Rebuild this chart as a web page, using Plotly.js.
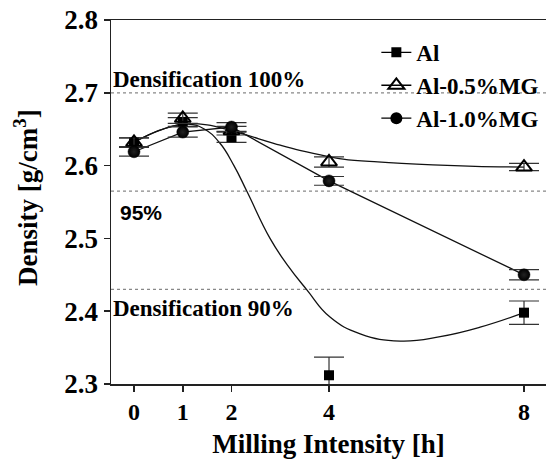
<!DOCTYPE html>
<html>
<head>
<meta charset="utf-8">
<script src="https://cdn.plot.ly/plotly-3.0.1.min.js"></script>
<style>html,body{margin:0;padding:0;background:#fff;}#chart{width:546px;height:466px;}</style>
</head>
<body>
<div id="chart"></div>
<script>
// Measured data
var hours = [0, 1, 2, 4, 8];
var densAl = [2.632, 2.660, 2.639, 2.312, 2.398];
var errAl = [0.006, 0.006, 0.007, 0.025, 0.016];
var densMG05 = [2.632, 2.665, 2.648, 2.605, 2.598];
var errMG05 = [0.006, 0.007, 0.006, 0.007, 0.005];
var densMG10 = [2.619, 2.646, 2.653, 2.579, 2.450];
var errMG10 = [0.006, 0.007, 0.006, 0.006, 0.007];

// Fitted trend curves
var fitAlX = [0, 0.6, 1.1, 1.45, 1.76, 2.05, 2.32, 2.79, 3.14, 3.55, 4.02, 4.64, 5.46, 6.28, 7.1, 8];
var fitAlY = [2.632, 2.650, 2.657, 2.650, 2.631, 2.600, 2.564, 2.500, 2.464, 2.429, 2.392, 2.369, 2.359, 2.365, 2.378, 2.398];
var fitMG05X = [0, 0.5, 1, 1.5, 2, 3, 3.4, 4.29, 5, 6.13, 7, 8];
var fitMG05Y = [2.632, 2.648, 2.657, 2.656, 2.648, 2.628, 2.621, 2.609, 2.605, 2.601, 2.599, 2.598];

// Reference densification levels
var levelY = [2.70, 2.565, 2.43];
var levelText = ['Densification 100%', '95%', 'Densification 90%'];

var serif = 'Liberation Serif, Times New Roman, serif';

function errObj(arr) {
  return {type: 'data', array: arr, visible: true, color: '#333', thickness: 1.2, width: 15};
}

var traces = [
  {x: fitAlX, y: fitAlY, mode: 'lines', line: {shape: 'spline', smoothing: 1.3, color: '#111', width: 1.3}, showlegend: false, hoverinfo: 'skip'},
  {x: fitMG05X, y: fitMG05Y, mode: 'lines', line: {shape: 'spline', smoothing: 1, color: '#111', width: 1.3}, showlegend: false, hoverinfo: 'skip'},
  {x: hours, y: densMG10, mode: 'lines', line: {color: '#111', width: 1.3}, showlegend: false, hoverinfo: 'skip'},
  {x: hours, y: densAl, mode: 'markers', error_y: errObj(errAl), marker: {symbol: 'square', size: 10, color: '#000'}, showlegend: false},
  {x: hours, y: densMG05, mode: 'markers', error_y: errObj(errMG05), marker: {symbol: 'triangle-up-open', size: 14, color: '#000', line: {width: 2, color: '#000'}}, showlegend: false},
  {x: hours, y: densMG10, mode: 'markers', error_y: errObj(errMG10), marker: {symbol: 'circle', size: 12, color: '#000', gradient: {type: 'radial', color: '#222'}, line: {width: 0.5, color: '#000'}}, showlegend: false},
  // legend entries
  {x: [null], y: [null], name: 'Al', mode: 'lines+markers', line: {color: '#000', width: 1.3}, marker: {symbol: 'square', size: 10, color: '#000'}},
  {x: [null], y: [null], name: 'Al-0.5%MG', mode: 'lines+markers', line: {color: '#000', width: 1.3}, marker: {symbol: 'triangle-up-open', size: 14, color: '#000', line: {width: 2, color: '#000'}}},
  {x: [null], y: [null], name: 'Al-1.0%MG', mode: 'lines+markers', line: {color: '#000', width: 1.3}, marker: {symbol: 'circle', size: 12, color: '#000'}}
];

var shapes = levelY.map(function (v) {
  return {type: 'line', xref: 'paper', x0: 0, x1: 1, yref: 'y', y0: v, y1: v, line: {color: '#888', width: 1.2, dash: 'dot'}, layer: 'below'};
});

var annotations = [
  {xref: 'paper', x: 0.0, yref: 'y', y: levelY[0], text: levelText[0], showarrow: false, xanchor: 'left', yanchor: 'bottom', yshift: -1, xshift: 0, font: {family: serif, size: 23, color: '#000', weight: 'bold'}},
  {xref: 'paper', x: 0.016, yref: 'y', y: levelY[1], text: levelText[1], showarrow: false, xanchor: 'left', yanchor: 'top', yshift: -8, font: {family: 'Liberation Sans, Arial, sans-serif', size: 21, color: '#000', weight: 'bold'}},
  {xref: 'paper', x: 0.0, yref: 'y', y: levelY[2], text: levelText[2], showarrow: false, xanchor: 'left', yanchor: 'top', yshift: -5, font: {family: serif, size: 23, color: '#000', weight: 'bold'}},
  // y-axis title drawn as a rotated annotation to match its vertical placement
  {xref: 'paper', x: 0, xanchor: 'center', xshift: -85, yref: 'paper', y: 0.511, yanchor: 'middle', textangle: -90, showarrow: false,
   text: 'Density [g/cm<sup>3</sup>]', font: {family: serif, size: 27, color: '#000', weight: 'bold'}}
];

var layout = {
  width: 546, height: 466,
  margin: {l: 111, r: 0, t: 20, b: 82},
  paper_bgcolor: '#fff', plot_bgcolor: '#fff',
  font: {family: serif, color: '#000'},
  xaxis: {
    range: [-0.472, 8.451], showgrid: false, zeroline: false,
    showline: true, linecolor: '#222', linewidth: 1.5, mirror: true,
    ticks: 'outside', ticklen: 6, tickwidth: 1.5, tickcolor: '#222',
    tickmode: 'array', tickvals: hours, ticktext: hours.map(String),
    tickfont: {family: serif, size: 24, color: '#000', weight: 'bold'},
    title: {text: 'Milling Intensity [h]', font: {family: serif, size: 27, color: '#000', weight: 'bold'}, standoff: 10}
  },
  yaxis: {
    range: [2.3, 2.8], showgrid: false, zeroline: false,
    showline: true, linecolor: '#222', linewidth: 1.5,
    ticks: 'outside', ticklen: 6, tickwidth: 1.5, tickcolor: '#222',
    tickmode: 'array', tickvals: [2.3, 2.4, 2.5, 2.6, 2.7, 2.8], ticktext: ['2.3', '2.4', '2.5', '2.6', '2.7', '2.8'],
    tickfont: {family: serif, size: 27, color: '#000', weight: 'bold'}
  },
  legend: {
    x: 0.61, y: 0.97, xanchor: 'left', yanchor: 'top',
    bgcolor: 'rgba(0,0,0,0)', borderwidth: 0,
    font: {family: serif, size: 23, color: '#000', weight: 'bold'},
    tracegroupgap: 0, itemwidth: 30
  },
  shapes: shapes,
  annotations: annotations,
  showlegend: true
};

Plotly.newPlot('chart', traces, layout, {staticPlot: true, displayModeBar: false});
</script>
</body>
</html>
